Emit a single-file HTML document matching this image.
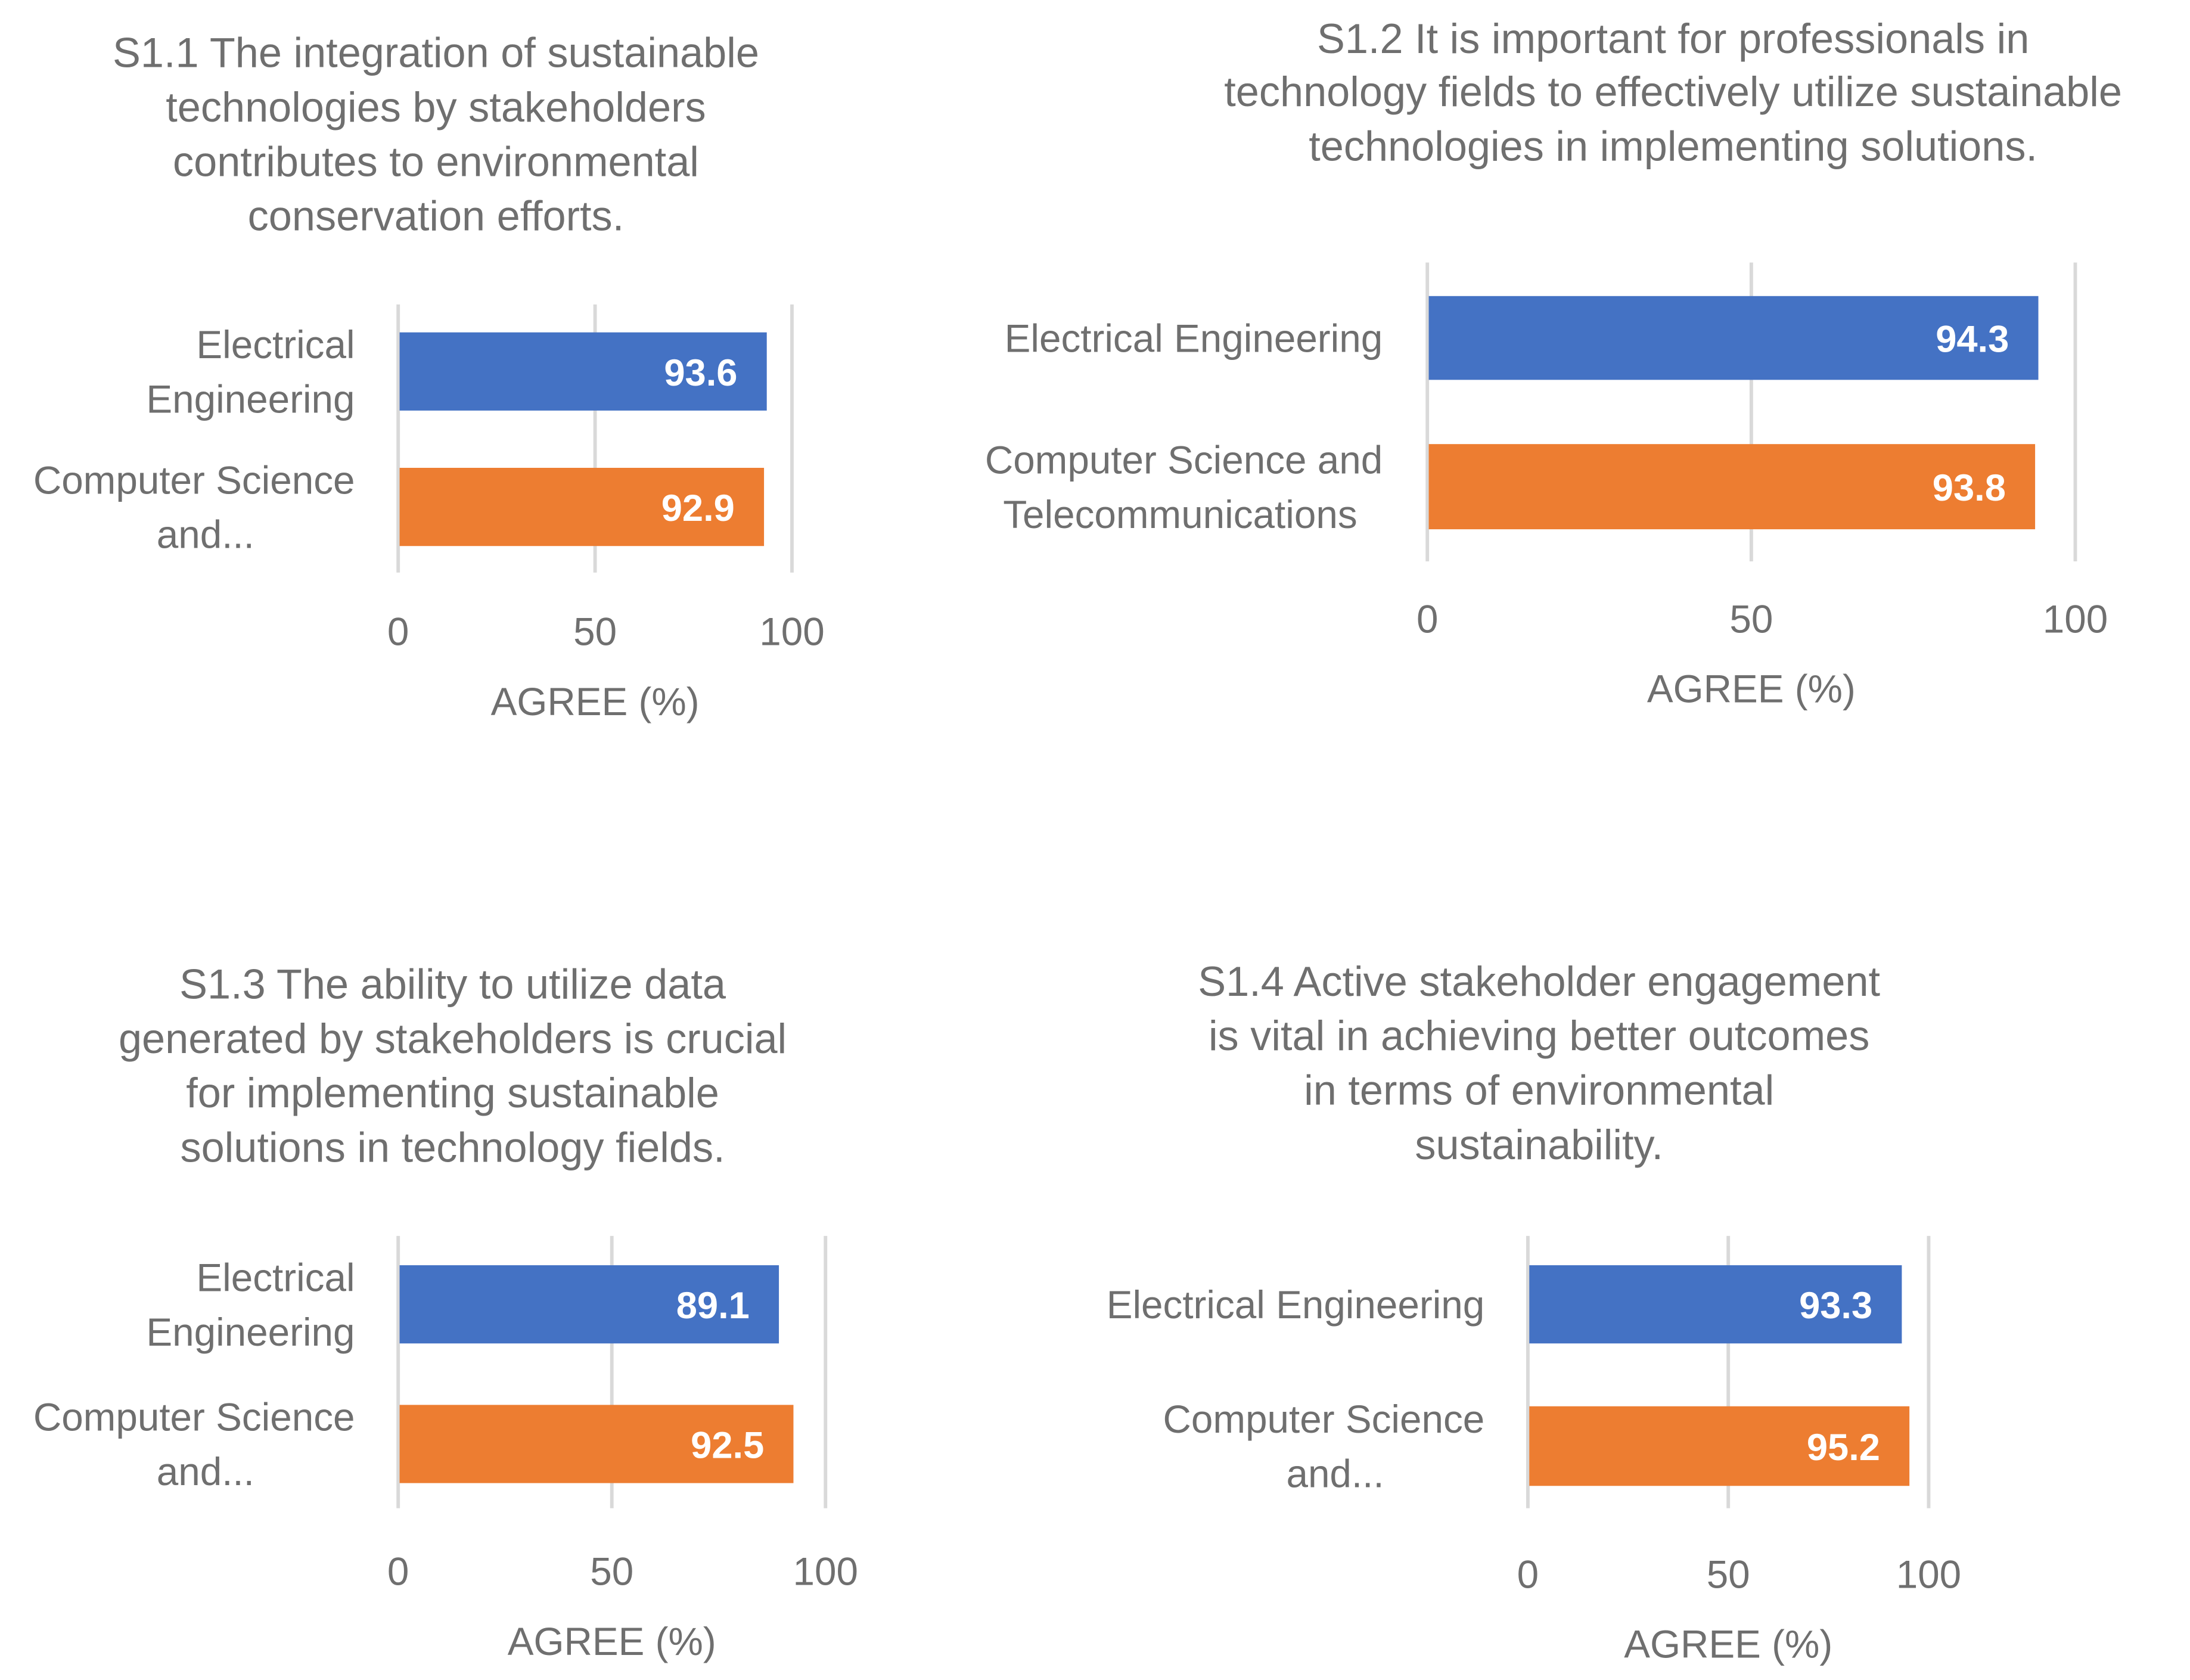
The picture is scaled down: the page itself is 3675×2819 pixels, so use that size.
<!DOCTYPE html>
<html><head><meta charset="utf-8"><style>
html,body{margin:0;padding:0;background:#fff;}
svg{display:block;}
text{font-family:"Liberation Sans",sans-serif;}
</style></head><body>
<svg id="c" width="3675" height="2819" viewBox="0 0 1568 1203" xmlns="http://www.w3.org/2000/svg"></svg>
<script>
const titles = [
 ["S1.1 The integration of sustainable","technologies by stakeholders","contributes to environmental","conservation efforts."],
 ["S1.2 It is important for professionals in","technology fields to effectively utilize sustainable","technologies in implementing solutions."],
 ["S1.3 The ability to utilize data","generated by stakeholders is crucial","for implementing sustainable","solutions in technology fields."],
 ["S1.4 Active stakeholder engagement","is vital in achieving better outcomes","in terms of environmental","sustainability."]
];
const catLabels = [
 [["Electrical","Engineering"],["Computer Science","and..."]],
 [["Electrical Engineering"],["Computer Science and","Telecommunications"]],
 [["Electrical","Engineering"],["Computer Science","and..."]],
 [["Electrical Engineering"],["Computer Science","and..."]]
];
const eeValues = [93.6, 94.3, 89.1, 93.3];
const csValues = [92.9, 93.8, 92.5, 95.2];
const tickValues = [0, 50, 100];
const axisTitle = "AGREE (%)";
// layout (not data)
const L = [
 {x0:285,x1:567,gt:218,gb:410,b1:[238,294],b2:[335,391],ty:452,at:502,tc:312,tl:[38,77,116,155],lx:254},
 {x0:1022,x1:1486,gt:188,gb:402,b1:[212,272],b2:[318,379],ty:443,at:493,tc:1198,tl:[28,66,105],lx:990},
 {x0:285,x1:591,gt:885,gb:1080,b1:[906,962],b2:[1006,1062],ty:1125,at:1175,tc:324,tl:[705,744,783,822],lx:254},
 {x0:1094,x1:1381,gt:885,gb:1080,b1:[906,962],b2:[1007,1064],ty:1127,at:1177,tc:1102,tl:[703,742,781,820],lx:1063}
];
const svg = document.getElementById('c');
const NS = "http://www.w3.org/2000/svg";
function mk(tag, attrs, parent){const e=document.createElementNS(NS,tag);for(const k in attrs)e.setAttribute(k,attrs[k]);parent.appendChild(e);return e;}
const grey="#6f6f6f";
const FS=28;
L.forEach((l,i)=>{
  const g=mk('g',{},svg);
  
  
  const xs=v=>l.x0+(l.x1-l.x0)*v/100;
  titles[i].forEach((t,j)=>{
    const e=mk('text',{x:l.tc,y:l.tl[j]+10,'text-anchor':'middle','font-size':30,fill:grey},g);
    
    
    e.textContent=t;
  });
  tickValues.forEach(v=>{
    const ln=mk('line',{x1:xs(v),x2:xs(v),y1:l.gt,y2:l.gb,stroke:'#d9d9d9','stroke-width':2.5},g);
    
    
    const t=mk('text',{x:xs(v),y:l.ty+10,'text-anchor':'middle','font-size':FS,fill:grey},g);
    
    
    t.textContent=v;
  });
  const at=mk('text',{x:(l.x0+l.x1)/2,y:l.at+10,'text-anchor':'middle','font-size':FS,fill:grey},g);
  
  
  at.textContent=axisTitle;
  const vals=[eeValues[i],csValues[i]], cols=['#4472c4','#ed7d31'], bs=[l.b1,l.b2];
  vals.forEach((v,k)=>{
    const b=bs[k];
    const r=mk('rect',{x:l.x0+1,y:b[0],width:xs(v)-l.x0-1,height:b[1]-b[0],fill:cols[k]},g);
    
    
    const vt=mk('text',{x:xs(v)-21,y:(b[0]+b[1])/2+10,'text-anchor':'end','font-size':27,'font-weight':'bold',fill:'#fff'},g);
    
    
    vt.textContent=v.toFixed(1);
    const lines=catLabels[i][k], mid=(b[0]+b[1])/2, n=lines.length;
    const lh = 39;
    lines.forEach((s,j)=>{
      let anchor='end', xx=l.lx;
      if (s=="and...") {anchor='middle'; xx=l.lx-107;}
      if (s=="Telecommunications") {anchor='middle'; xx=l.lx-145;}
      const ct=mk('text',{x:xx,y:mid+(j-(n-1)/2)*lh+10,'text-anchor':anchor,'font-size':FS,fill:grey},g);
      
      
      ct.textContent=s;
    });
  });
});
</script>
</body></html>
